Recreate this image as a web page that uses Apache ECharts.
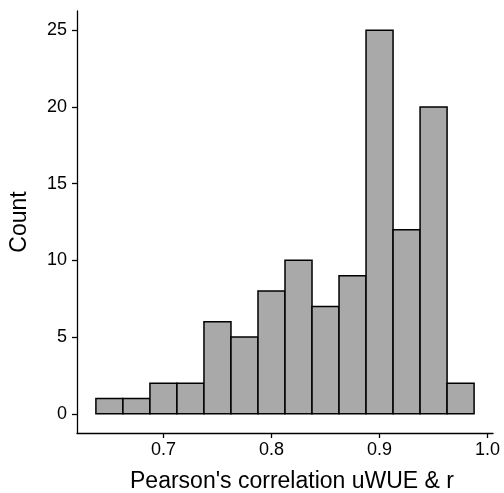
<!DOCTYPE html>
<html>
<head>
<meta charset="utf-8">
<script src="https://cdn.jsdelivr.net/npm/echarts@6/dist/echarts.min.js"></script>
<style>
  html, body { margin: 0; padding: 0; background: #fff; }
  #chart { width: 504px; height: 493px; }
</style>
</head>
<body>
<div id="chart"></div>
<script>
// histogram bins: centres and counts (bin width 0.025)
const binCenters = [0.65, 0.675, 0.7, 0.725, 0.75, 0.775, 0.8, 0.825, 0.85, 0.875, 0.9, 0.925, 0.95, 0.975]
const counts = [1, 1, 2, 2, 6, 5, 8, 10, 7, 9, 25, 12, 20, 2]
const binWidth = 0.025
const xTicks = [0.7, 0.8, 0.9, 1.0]
const yTicks = [0, 5, 10, 15, 20, 25]

const chart = echarts.init(document.getElementById('chart'))

const font = 'Liberation Sans, Arial, Helvetica, sans-serif'

chart.setOption({
  animation: false,
  grid: { left: 77, right: 11, top: 11, bottom: 60, outerBoundsMode: 'none' },
  xAxis: {
    type: 'value',
    min: 0.62,
    max: 1.005,
    name: "Pearson's correlation uWUE & r",
    nameLocation: 'middle',
    nameGap: 37,
    nameTextStyle: { color: '#000', fontSize: 23, fontFamily: font, padding: [0, 0, 0, 14] },
    axisLine: { show: true, onZero: false, lineStyle: { color: '#000', width: 1.3 } },
    axisTick: { show: true, length: 5, customValues: xTicks, lineStyle: { color: '#000', width: 1.3 } },
    axisLabel: {
      customValues: xTicks,
      color: '#000',
      fontSize: 18,
      fontFamily: font,
      margin: 8,
      formatter: v => v.toFixed(1)
    },
    splitLine: { show: false }
  },
  yAxis: {
    type: 'value',
    min: -1.25,
    max: 26.25,
    name: 'Count',
    nameLocation: 'middle',
    nameGap: 46,
    nameTextStyle: { color: '#000', fontSize: 23, fontFamily: font },
    axisLine: { show: true, onZero: false, lineStyle: { color: '#000', width: 1.3 } },
    axisTick: { show: true, length: 5, customValues: yTicks, lineStyle: { color: '#000', width: 1.3 } },
    axisLabel: {
      customValues: yTicks,
      color: '#000',
      fontSize: 18,
      fontFamily: font,
      margin: 10
    },
    splitLine: { show: false }
  },
  series: [{
    type: 'custom',
    data: binCenters.map((c, i) => [c, counts[i]]),
    renderItem(params, api) {
      const c = api.value(0)
      const n = api.value(1)
      const p0 = api.coord([c - binWidth / 2, n])
      const p1 = api.coord([c + binWidth / 2, 0])
      return {
        type: 'rect',
        shape: { x: p0[0], y: p0[1], width: p1[0] - p0[0], height: p1[1] - p0[1] },
        style: { fill: '#a9a9a9', stroke: '#000', lineWidth: 1.5 }
      }
    },
    silent: true
  }]
})
</script>
</body>
</html>
